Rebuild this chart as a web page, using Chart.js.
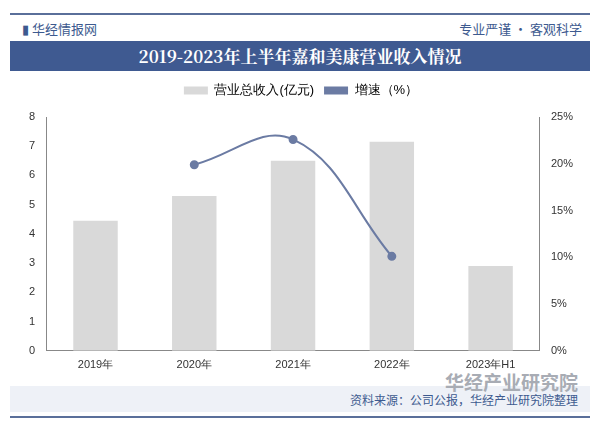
<!DOCTYPE html>
<html><head><meta charset="utf-8">
<script src="https://cdn.jsdelivr.net/npm/chart.js@4"></script>
<style>
body{margin:0;width:600px;height:425px;position:relative;background:#fff;font-family:"Noto Sans CJK SC",sans-serif;overflow:hidden}
.abs{position:absolute}
</style></head><body>
<div class="abs" style="left:10px;top:13px;width:580px;height:2px;background:#5a6f9a"></div>
<div class="abs" style="left:22px;top:19px;font-size:13px;color:#3d5a8f">▮ 华经情报网</div>
<div class="abs" style="right:18px;top:19px;font-size:13px;color:#3d5a8f">专业严谨 • 客观科学</div>
<div class="abs" style="left:10px;top:41px;width:580px;height:30px;background:#3f5a91;color:#fff;font:bold 17px 'Noto Serif CJK SC','Noto Sans CJK SC',serif;text-align:center;line-height:30px">2019-2023年上半年嘉和美康营业收入情况</div>
<div class="abs" style="left:10px;top:386px;width:580px;height:26px;background:#eef1f7"></div>
<div class="abs" style="left:10px;top:416px;width:580px;height:2px;background:#5a6f9a"></div>
<div class="abs" style="right:22px;top:368px;font-size:19px;font-weight:bold;color:#a8acb4">华经产业研究院</div>
<div class="abs" style="right:22px;top:391px;font-size:12px;color:#3d5a8f">资料来源：公司公报，华经产业研究院整理</div>
<div class="abs" style="left:0;top:74px;width:600px;height:310px"><canvas id="c" width="600" height="310"></canvas></div>
<script>
const categories = ['2019年', '2020年', '2021年', '2022年', '2023年H1'];
const revenue = [4.45, 5.3, 6.5, 7.15, 2.9];
const growth = [null, 19.9, 22.6, 10.1, null];

new Chart(document.getElementById('c').getContext('2d'), {
  data: {
    labels: categories,
    datasets: [
      { type: 'line', label: '增速（%）', data: growth, yAxisID: 'y1', borderColor: '#6b7ba3', backgroundColor: '#6b7ba3',
        borderWidth: 2, pointRadius: 3.5, tension: 0.4, spanGaps: false, order: 0 },
      { type: 'bar', label: '营业总收入(亿元)', data: revenue, yAxisID: 'y', backgroundColor: '#d9d9d9', barPercentage: 0.45, categoryPercentage: 1, order: 1 }
    ]
  },
  options: {
    responsive: false, animation: false,
    layout: { padding: { left: 26, right: 24, top: 0, bottom: 12 } },
    plugins: {
      legend: { padding: 18, labels: { boxWidth: 24, boxHeight: 8, font: { size: 13 }, color: '#333',
        generateLabels(chart) {
          return chart.data.datasets.slice().reverse().map((d, i) => ({ text: d.label, fillStyle: d.type === 'bar' ? '#d9d9d9' : '#6b7ba3',
            strokeStyle: d.type === 'bar' ? '#d9d9d9' : '#6b7ba3', lineWidth: 0, datasetIndex: 1 - i }));
        } } },
      tooltip: { enabled: false }
    },
    scales: {
      x: { grid: { display: false }, border: { color: '#888' }, ticks: { color: '#333', font: { size: 11 }, padding: 0 } },
      y: { min: 0, max: 8, afterFit(s) { s.paddingTop = 0; }, ticks: { stepSize: 1, color: '#333', font: { size: 11 } }, grid: { display: false }, border: { color: '#888' } },
      y1: { position: 'right', min: 0, max: 25, ticks: { stepSize: 5, color: '#333', font: { size: 11 }, callback: v => v + '%' },
        grid: { display: false }, border: { color: '#888' } }
    }
  },
  plugins: [{ id: 'legendGap', beforeInit(chart) {
    const fit = chart.legend.fit;
    chart.legend.fit = function () { fit.bind(chart.legend)(); this.height += 10; };
  } }]
});
</script>
</body></html>
